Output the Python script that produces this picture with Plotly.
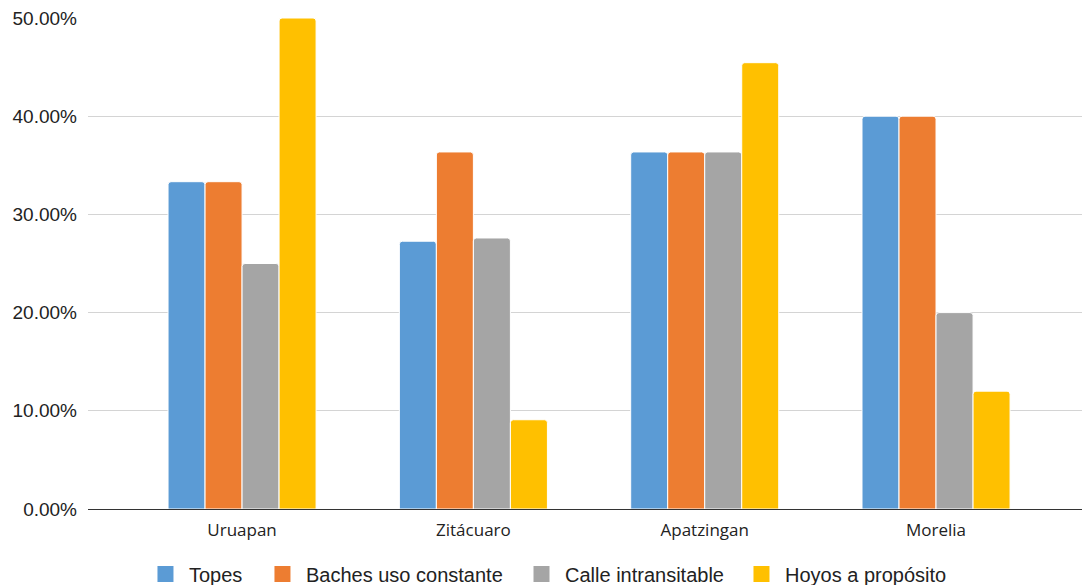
import plotly.graph_objects as go

cities = ["Uruapan", "Zitácuaro", "Apatzingan", "Morelia"]
topes = [33.33, 27.27, 36.36, 40.0]
baches = [33.33, 36.36, 36.36, 40.0]
calle = [25.0, 27.6, 36.36, 20.0]
hoyos = [50.0, 9.09, 45.45, 12.0]

y_ticks = [0, 10, 20, 30, 40, 50]
y_tick_text = ["0.00%", "10.00%", "20.00%", "30.00%", "40.00%", "50.00%"]

series = [
    ("Topes", topes, "#5b9bd5"),
    ("Baches uso constante", baches, "#ed7d31"),
    ("Calle intransitable", calle, "#a5a5a5"),
    ("Hoyos a propósito", hoyos, "#ffc000"),
]

# one legend per series so the entries keep their own spacing
legend_ids = ["legend", "legend2", "legend3", "legend4"]
legend_x = [0.0543, 0.1720, 0.4326, 0.6539]

fig = go.Figure()
for name, vals, color in series:
    fig.add_trace(go.Bar(
        x=cities, y=vals, name=name, showlegend=False,
        marker=dict(color=color, line=dict(color="white", width=1)),
    ))

# legend entries with large square swatches
for (name, vals, color), lid in zip(series, legend_ids):
    fig.add_trace(go.Scatter(
        x=[None], y=[None], mode="markers", name=name, legend=lid,
        marker=dict(symbol="square", size=19, color=color),
    ))

legend_style = dict(orientation="h", xanchor="left", y=-0.1324, yanchor="middle",
                    font=dict(size=20, color="#222222"), itemwidth=37,
                    bgcolor="rgba(0,0,0,0)")

fig.update_layout(
    width=1082, height=585,
    margin=dict(l=88, r=0, t=18, b=76, autoexpand=False),
    paper_bgcolor="white", plot_bgcolor="white",
    font=dict(family="Liberation Sans, Arial, sans-serif", color="#222222"),
    barmode="group", bargap=0.36, bargroupgap=0.0,
    barcornerradius=3,
    showlegend=True,
    xaxis=dict(range=[-0.666, 3.631], showgrid=False, ticks="",
               tickfont=dict(family="Open Sans, Liberation Sans, sans-serif",
                             size=17, color="#222222"),
               showline=False, ticklabelstandoff=9),
    yaxis=dict(range=[0, 50], tickvals=y_ticks, ticktext=y_tick_text,
               showgrid=True, gridcolor="#d4d4d4", gridwidth=1,
               zeroline=True, zerolinecolor="#333333", zerolinewidth=1,
               tickfont=dict(size=19, color="#222222"), ticklabelstandoff=10),
)
for lid, lx in zip(legend_ids, legend_x):
    fig.update_layout({lid: dict(legend_style, x=lx)})

fig.write_html("out.html")
